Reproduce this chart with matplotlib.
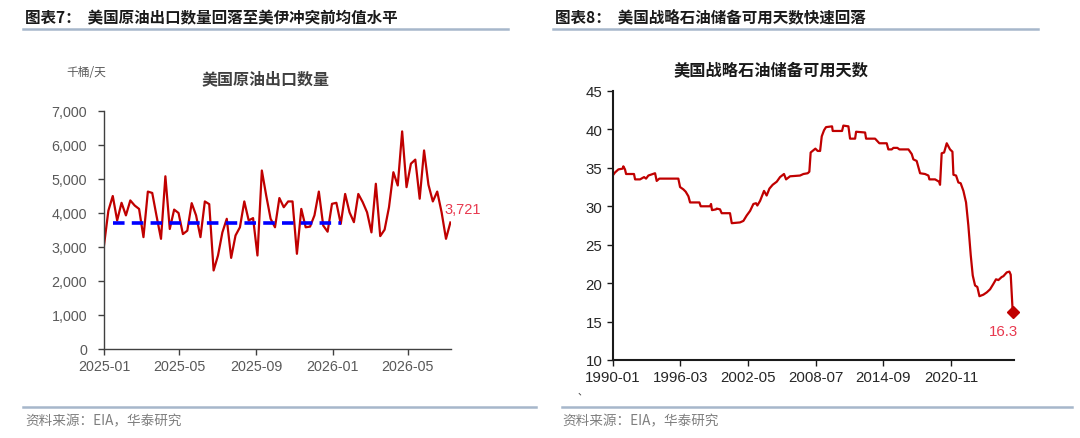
import numpy as np
import pandas as pd
import matplotlib
matplotlib.use("Agg")
import matplotlib.pyplot as plt
from matplotlib.ticker import FuncFormatter

plt.rcParams['font.family'] = ['Liberation Sans', 'Noto Sans CJK SC', 'DejaVu Sans']
CJK = ['Noto Sans CJK SC', 'DejaVu Sans']

# ---- left: US crude exports, weekly (kb/d)
export_start = "2025-01-01"
exports = [3050, 4070, 4500, 3780, 4300, 3930, 4370, 4220, 4120, 3290,
           4630, 4590, 3900, 3240, 5080, 3530, 4100, 4000, 3380, 3480,
           4290, 3930, 3290, 4340, 4260, 2310, 2750, 3430, 3830, 2680,
           3340, 3580, 4340, 3780, 3850, 2750, 5250, 4510, 3830, 3580,
           4440, 4170, 4340, 4340, 2800, 4120, 3580, 3600, 3930, 4630,
           3630, 3450, 4270, 4300, 3680, 4560, 4020, 3730, 4560, 4320,
           4020, 3430, 4860, 3320, 3510, 4170, 5200, 4810, 6400, 4760,
           5450, 5570, 4420, 5840, 4830, 4340, 4630, 4020, 3240, 3721]
avg_level = 3710
avg_start = "2025-01-15"
avg_end = "2026-01-14"
export_ticks = ["2025-01", "2025-05", "2025-09", "2026-01", "2026-05"]

# ---- right: SPR days of cover
spr_year = [1990.00, 1990.21, 1990.52, 1990.91, 1990.97, 1991.12, 1991.22, 1991.94, 1992.04, 1992.49,
            1992.86, 1993.04, 1993.25, 1993.86, 1994.01, 1994.25, 1995.98, 1996.14, 1996.44, 1996.65,
            1996.90, 1997.05, 1997.90, 1998.02, 1998.87, 1998.96, 1999.05, 1999.42, 1999.48, 1999.78,
            1999.93, 2000.69, 2000.85, 2001.60, 2001.91, 2002.21, 2002.52, 2002.82, 2003.06, 2003.18,
            2003.43, 2003.79, 2004.03, 2004.28, 2004.58, 2004.95, 2005.25, 2005.61, 2005.80, 2006.16,
            2007.07, 2007.38, 2007.77, 2007.92, 2008.04, 2008.47, 2008.68, 2008.90, 2009.05, 2009.26,
            2009.44, 2009.99, 2010.05, 2010.90, 2011.02, 2011.48, 2011.63, 2012.09, 2012.18, 2013.00,
            2013.09, 2013.91, 2014.30, 2014.97, 2015.12, 2015.43, 2015.58, 2015.94, 2016.13, 2016.95,
            2017.25, 2017.40, 2017.70, 2018.01, 2018.46, 2018.77, 2018.86, 2019.38, 2019.74, 2019.83,
            2019.98, 2020.20, 2020.44, 2020.74, 2020.96, 2021.05, 2021.29, 2021.50, 2021.71, 2021.96,
            2022.20, 2022.41, 2022.63, 2022.81, 2023.02, 2023.23, 2023.42, 2023.78, 2024.09, 2024.39,
            2024.69, 2024.93, 2025.15, 2025.45, 2025.60, 2025.91, 2026.15, 2026.27, 2026.45]
spr_days = [34.0, 34.4, 34.8, 34.9, 35.2, 34.8, 34.2, 34.2, 33.5, 33.5,
            33.8, 33.6, 34.0, 34.3, 33.3, 33.6, 33.6, 32.5, 32.2, 31.9,
            31.3, 30.5, 30.5, 30.0, 30.0, 30.3, 29.5, 29.6, 29.7, 29.6,
            29.1, 29.1, 27.8, 27.9, 28.1, 28.8, 29.4, 30.3, 30.4, 30.1,
            30.7, 32.0, 31.4, 32.3, 32.8, 33.2, 33.8, 34.2, 33.5, 33.9,
            34.0, 34.2, 34.3, 34.5, 37.0, 37.5, 37.2, 37.2, 39.1, 39.9,
            40.3, 40.4, 39.8, 39.8, 40.5, 40.4, 38.8, 38.8, 39.7, 39.6,
            38.8, 38.8, 38.2, 38.2, 37.4, 37.4, 37.6, 37.6, 37.4, 37.4,
            36.8, 36.1, 35.9, 34.3, 34.2, 34.0, 33.5, 33.5, 33.2, 32.8,
            36.9, 37.0, 38.2, 37.4, 37.1, 34.1, 34.0, 33.1, 33.0, 32.0,
            30.5, 27.5, 23.6, 21.0, 19.7, 19.5, 18.3, 18.5, 18.8, 19.2,
            19.9, 20.5, 20.4, 20.8, 20.9, 21.4, 21.5, 21.1, 16.3]
spr_ticks = ["1990-01", "1996-03", "2002-05", "2008-07", "2014-09", "2020-11"]

RED = '#C00000'
LABEL_RED = '#E8394F'
GRAY = '#595959'

fig = plt.figure(figsize=(10.8, 4.39), dpi=100)

# header / footer decorations
fig.text(25/1080, 1 - 18/439, "图表7：  美国原油出口数量回落至美伊冲突前均值水平", family=CJK,
         fontsize=11.2, fontweight='bold', color='#1a1a1a', va='center', ha='left')
fig.text(555/1080, 1 - 18/439, "图表8：  美国战略石油储备可用天数快速回落", family=CJK,
         fontsize=11.2, fontweight='bold', color='#1a1a1a', va='center', ha='left')
for x0, x1 in [(23, 508), (553, 1038)]:
    fig.add_artist(plt.Line2D([x0/1080, x1/1080], [1 - 30/439] * 2, color='#A6B7CB', lw=1.8))
for x0, x1 in [(23, 536), (562, 1072)]:
    fig.add_artist(plt.Line2D([x0/1080, x1/1080], [1 - 408/439] * 2, color='#A6B7CB', lw=1.8))
fig.text(25/1080, 1 - 421/439, "资料来源：EIA，华泰研究", family=CJK, fontsize=9.8,
         color='#7F7F7F', va='center', ha='left')
fig.text(562/1080, 1 - 421/439, "资料来源：EIA，华泰研究", family=CJK, fontsize=9.8,
         color='#7F7F7F', va='center', ha='left')
fig.text(577/1080, 1 - 391/439, "、", family=CJK, fontsize=7, color='#404040', va='center')

# ---- left chart
ax1 = fig.add_axes([104/1080, 1 - 350/439, 347/1080, 238/439])
dates = pd.date_range(export_start, periods=len(exports), freq="7D")
ax1.plot(dates, exports, color=RED, lw=1.6)
ax1.plot([pd.Timestamp(avg_start), pd.Timestamp(avg_end)], [avg_level, avg_level],
         color='#0000FF', lw=2.6, dashes=(3.2, 2.0))
ax1.set_xlim(pd.Timestamp(export_start), dates[-1] + pd.Timedelta(days=1))
ax1.set_ylim(0, 7000)
ax1.set_yticks(np.arange(0, 7001, 1000))
ax1.yaxis.set_major_formatter(FuncFormatter(lambda v, p: f"{int(v):,}"))
ax1.set_xticks([pd.Timestamp(t + "-01") for t in export_ticks])
ax1.set_xticklabels(export_ticks)
for s in ['top', 'right']:
    ax1.spines[s].set_visible(False)
for s in ['left', 'bottom']:
    ax1.spines[s].set_color('#404040')
    ax1.spines[s].set_linewidth(1.0)
ax1.tick_params(axis='both', colors='#404040', labelcolor=GRAY, labelsize=10.3, length=4, width=1)
ax1.tick_params(axis='y', pad=8)
ax1.tick_params(axis='x', pad=3)
ax1.annotate(f"{exports[-1]:,}", (dates[-1], exports[-1]), xytext=(-4, 10), textcoords='offset points',
             ha='left', va='center', color=LABEL_RED, fontsize=10.5)
fig.text(86/1080, 1 - 73/439, "千桶/天", family=CJK, fontsize=8.5, color=GRAY, ha='center', va='center')
fig.text(266/1080, 1 - 79/439, "美国原油出口数量", family=CJK, fontsize=11.5, fontweight='bold',
         color='#404040', ha='center', va='center')

# ---- right chart
ax2 = fig.add_axes([612.7/1080, 1 - 361/439, 401.3/1080, 269/439])
ax2.plot(spr_year, spr_days, color=RED, lw=1.6)
ax2.plot(spr_year[-1], spr_days[-1], marker='D', color=RED, ms=6, clip_on=False)
ax2.set_xlim(1990.0, 2026.57)
ax2.set_ylim(10, 45)
ax2.set_yticks(np.arange(10, 46, 5))
ax2.set_xticks([int(t[:4]) + (int(t[5:]) - 1) / 12 for t in spr_ticks])
ax2.set_xticklabels(spr_ticks)
for s in ['top', 'right']:
    ax2.spines[s].set_visible(False)
for s in ['left', 'bottom']:
    ax2.spines[s].set_color('#1a1a1a')
    ax2.spines[s].set_linewidth(1.5)
ax2.tick_params(axis='both', colors='#1a1a1a', labelcolor='#262626', labelsize=10.8, length=4, width=1)
ax2.annotate(f"{spr_days[-1]}", (spr_year[-1], spr_days[-1]), xytext=(-7, -14), textcoords='offset points',
             ha='center', va='center', color=LABEL_RED, fontsize=10.8)
fig.text(771/1080, 1 - 71/439, "美国战略石油储备可用天数", family=CJK, fontsize=11.7, fontweight='bold',
         color='#1a1a1a', ha='center', va='center')

fig.savefig("out.png", dpi=100)
